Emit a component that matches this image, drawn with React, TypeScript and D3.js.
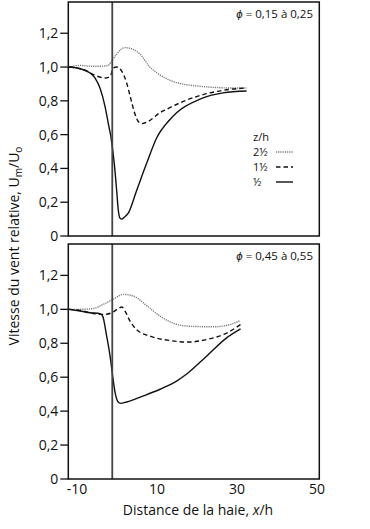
import React from "react";
import * as d3 from "d3";

// ---- data (x = distance from hedge x/h, y = U_m/U_o) ----
const xTicks = [-10, 10, 30, 50];
const yTicks = [0, 0.2, 0.4, 0.6, 0.8, 1.0, 1.2];
const hedgeX = -1.2;

const topDottedX = [-12, -9.2, -6.8, -4.2, -2.2, -1.2, 0, 2, 4, 5.8, 8.2, 10, 14, 20.8, 29, 32.4];
const topDottedY = [1.0, 1.01, 1.005, 1.005, 1.01, 1.04, 1.08, 1.115, 1.105, 1.075, 1.0, 0.965, 0.915, 0.886, 0.876, 0.876];

const topDashedX = [-12, -8.4, -5.9, -3, -1.75, -0.9, -0.1, 1.2, 2.4, 3.25, 4.5, 5.3, 6.2, 7.8, 10.75, 12.4, 16.6, 23.25, 29, 32.4];
const topDashedY = [1.0, 0.985, 0.955, 0.935, 0.945, 0.995, 1.0, 0.975, 0.906, 0.83, 0.72, 0.678, 0.665, 0.678, 0.73, 0.75, 0.797, 0.847, 0.87, 0.876];

const topSolidX = [-12, -9.25, -6.75, -5.5, -4.25, -3, -2.2, -1.5, -0.7, -0.1, 0.3, 0.75, 1.25, 1.75, 2.8, 4.9, 7.4, 9.9, 13.25, 14.9, 20.75, 26.5, 32.4];
const topSolidY = [1.0, 0.99, 0.965, 0.935, 0.875, 0.766, 0.667, 0.58, 0.43, 0.27, 0.155, 0.105, 0.1, 0.11, 0.135, 0.27, 0.43, 0.58, 0.69, 0.73, 0.81, 0.847, 0.858];

const botDottedX = [-12, -9.25, -5.9, -3.4, -0.9, 1.6, 4.1, 7.4, 10.75, 14.1, 18.25, 24.1, 28.25, 30.9];
const botDottedY = [1.0, 1.0, 1.005, 1.03, 1.06, 1.088, 1.078, 1.022, 0.96, 0.918, 0.9, 0.897, 0.91, 0.935];

const botDashedX = [-12, -8.4, -5.9, -3.4, -1.3, -0.1, 1.2, 2, 3.25, 4.9, 8.25, 13.25, 17.8, 22.4, 27.4, 30.9];
const botDashedY = [1.0, 0.99, 0.975, 0.97, 0.98, 0.998, 1.014, 0.99, 0.93, 0.88, 0.842, 0.816, 0.807, 0.822, 0.86, 0.91];

const botSolidX = [-12, -9.25, -6.75, -4.25, -3.6, -2.6, -1.75, -1.1, -0.5, 0.1, 0.75, 2.4, 6.6, 10.75, 14.9, 17.5, 22.4, 27.4, 30.9];
const botSolidY = [1.0, 0.99, 0.98, 0.975, 0.96, 0.842, 0.724, 0.607, 0.51, 0.46, 0.446, 0.454, 0.49, 0.529, 0.577, 0.62, 0.724, 0.832, 0.885];

const panelLabels = ["0,15 à 0,25", "0,45 à 0,55"];
const legendTitle = "z/h";
const legendLabels = ["2½", "1½", "½"];

const W = 370;
const H = 529;
const left = 68.3;
const right = 319.3;
const panels = [
  { top: 2, bottom: 236 },
  { top: 244, bottom: 479 },
];
const font = "'Open Sans', sans-serif";

const styles = [
  { stroke: "#7a7a7a", dash: "1.2,1", width: 1.4 },
  { stroke: "#111", dash: "4.5,3", width: 1.4 },
  { stroke: "#111", dash: "", width: 1.4 },
];

function zip(xs: number[], ys: number[]): [number, number][] {
  return xs.map((x, i) => [x, ys[i]]);
}

export default function App() {
  const x = d3.scaleLinear().domain([-12.2, 50.6]).range([left, right]);
  const fmt = (v: number) => (v === 0 ? "0" : d3.format(".1f")(v).replace(".", ","));

  const series = [
    [zip(topDottedX, topDottedY), zip(topDashedX, topDashedY), zip(topSolidX, topSolidY)],
    [zip(botDottedX, botDottedY), zip(botDashedX, botDashedY), zip(botSolidX, botSolidY)],
  ];

  return (
    <svg width={W} height={H} style={{ position: "absolute", left: 0, top: 0, background: "#fff" }} fontFamily={font}>
      <rect x={0} y={0} width={W} height={H} fill="#fff" />
      {panels.map((p, pi) => {
        const y = d3.scaleLinear().domain([0, 1.385]).range([p.bottom, p.top]);
        const line = d3
          .line<[number, number]>()
          .x((d) => x(d[0]))
          .y((d) => y(d[1]))
          .curve(d3.curveMonotoneX);
        return (
          <g key={pi}>
            {series[pi].map((s, si) => (
              <path
                key={si}
                d={line(s) || ""}
                fill="none"
                stroke={styles[si].stroke}
                strokeWidth={styles[si].width}
                strokeDasharray={styles[si].dash || undefined}
              />
            ))}
            <line x1={x(hedgeX)} x2={x(hedgeX)} y1={p.top} y2={p.bottom} stroke="#444" strokeWidth={1.8} />
            <rect x={left} y={p.top} width={right - left} height={p.bottom - p.top} fill="none" stroke="#111" strokeWidth={1.5} />
            {yTicks.map((t) => (
              <g key={t}>
                <line x1={left - 8} x2={left} y1={y(t)} y2={y(t)} stroke="#111" strokeWidth={1.3} />
                <text x={left - 10} y={y(t)} dy="0.36em" textAnchor="end" fontSize={14} fill="#111">
                  {fmt(t)}
                </text>
              </g>
            ))}
            <text x={313} y={p.top + 16} textAnchor="end" fontSize={11.5} fill="#111">
              <tspan fontStyle="italic">ϕ</tspan>
              {" = " + panelLabels[pi]}
            </text>
          </g>
        );
      })}
      {/* legend */}
      <g fontSize={11} fill="#111">
        <text x={253} y={141}>{legendTitle}</text>
        {legendLabels.map((l, i) => (
          <g key={l}>
            <text x={253} y={156 + i * 15}>{l}</text>
            <line
              x1={276}
              x2={293}
              y1={152 + i * 15}
              y2={152 + i * 15}
              stroke={styles[i].stroke}
              strokeWidth={styles[i].width}
              strokeDasharray={styles[i].dash || undefined}
            />
          </g>
        ))}
      </g>
      {/* x axis labels */}
      {xTicks.map((t) => (
        <text key={t} x={x(t)} y={494} textAnchor="middle" fontSize={14} fill="#111">
          {t}
        </text>
      ))}
      <text x={198} y={515} textAnchor="middle" fontSize={14} fill="#111">
        Distance de la haie, <tspan fontStyle="italic">x</tspan>/h
      </text>
      <text transform="translate(19,246) rotate(-90)" textAnchor="middle" fontSize={14} fill="#111">
        Vitesse du vent relative, U
        <tspan fontSize={10} dy={3}>m</tspan>
        <tspan dy={-3}>/U</tspan>
        <tspan fontSize={10} dy={3}>o</tspan>
      </text>
    </svg>
  );
}
